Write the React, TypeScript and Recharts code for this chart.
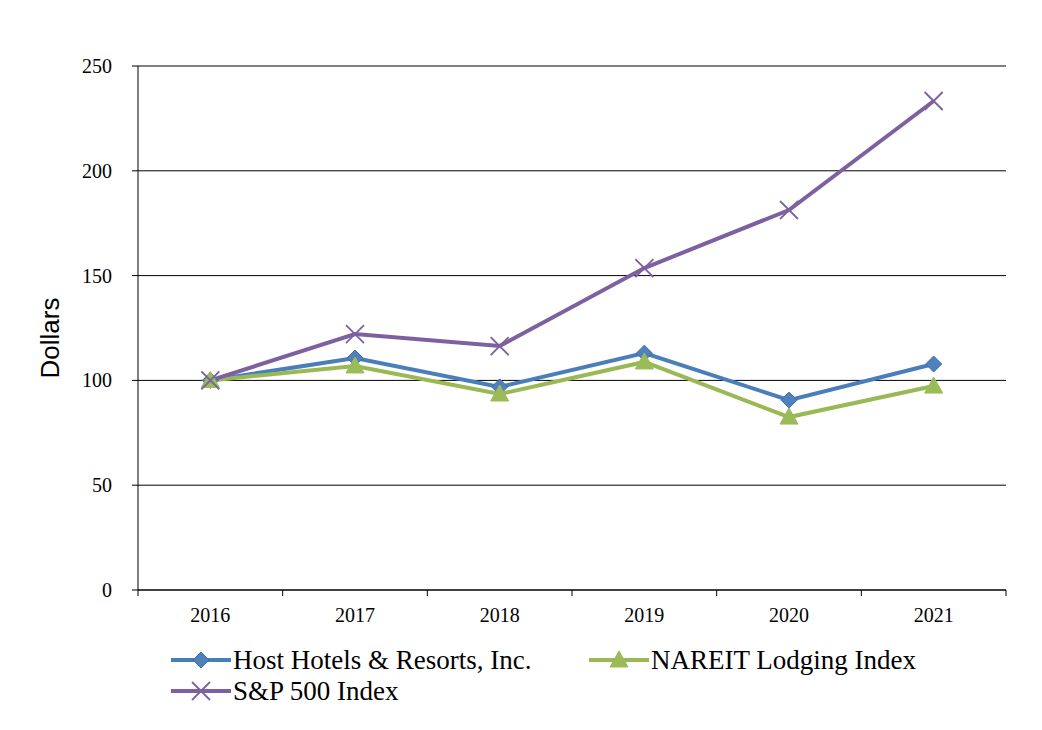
import React from 'react';
import { LineChart, Line, XAxis, YAxis, CartesianGrid, Legend } from 'recharts';

const years = ['2016', '2017', '2018', '2019', '2020', '2021'];
const hostValues = [100, 110.7, 96.9, 113, 90.6, 107.8];
const nareitValues = [100, 106.9, 93.5, 108.8, 82.5, 97.3];
const spValues = [100, 122.1, 116.4, 153.6, 181.3, 233.3];
const yTicks = [0, 50, 100, 150, 200, 250];

const data = years.map((year, i) => ({
  year,
  host: hostValues[i],
  nareit: nareitValues[i],
  sp: spValues[i],
}));

const WIDTH = 1042;
const HEIGHT = 730;
const MARGIN = { top: 66, right: 36, left: 0, bottom: 100 };
const Y_AXIS_WIDTH = 138;
const PLOT_WIDTH = WIDTH - MARGIN.left - MARGIN.right - Y_AXIS_WIDTH;
const HALF_BAND = PLOT_WIDTH / years.length / 2;

const SERIF = '"Liberation Serif", serif';
const SANS = '"Liberation Sans", sans-serif';

const series = [
  { key: 'host', name: 'Host Hotels & Resorts, Inc.', line: '#4A7EBB', marker: '#4F81BD', shape: 'diamond' },
  { key: 'nareit', name: 'NAREIT Lodging Index', line: '#98B954', marker: '#9BBB59', shape: 'triangle' },
  { key: 'sp', name: 'S&P 500 Index', line: '#7D60A0', marker: '#7D60A0', shape: 'cross' },
];

function Marker({ cx, cy, shape, color }: { cx: number; cy: number; shape: string; color: string }) {
  if (shape === 'diamond') {
    return <path d={`M${cx},${cy - 8} L${cx + 8},${cy} L${cx},${cy + 8} L${cx - 8},${cy} Z`} fill={color} stroke="#3F6DA6" strokeWidth={1} />;
  }
  if (shape === 'triangle') {
    return <path d={`M${cx},${cy - 9} L${cx + 9},${cy + 7} L${cx - 9},${cy + 7} Z`} fill={color} stroke={color} strokeWidth={1} />;
  }
  return (
    <g stroke={color} strokeWidth={1.8}>
      <line x1={cx - 9} y1={cy - 9} x2={cx + 9} y2={cy + 9} />
      <line x1={cx - 9} y1={cy + 9} x2={cx + 9} y2={cy - 9} />
    </g>
  );
}

const makeDot = (shape: string, color: string) => (props: any) => {
  const { cx, cy, index } = props;
  if (cx == null || cy == null) return <g key={index} />;
  return <Marker key={index} cx={cx} cy={cy} shape={shape} color={color} />;
};

const XTick = (props: any) => {
  const { x, y, payload, index } = props;
  const last = index === years.length - 1;
  return (
    <g>
      <line x1={x - HALF_BAND} y1={y - 8} x2={x - HALF_BAND} y2={y - 2} stroke="#000" />
      {last && <line x1={x + HALF_BAND} y1={y - 8} x2={x + HALF_BAND} y2={y - 2} stroke="#000" />}
      <text x={x} y={y + 24} textAnchor="middle" style={{ fontFamily: SERIF }} fontSize={20} fill="#000">
        {payload.value}
      </text>
    </g>
  );
};

const YTick = (props: any) => {
  const { x, y, payload } = props;
  return (
    <text x={x} y={y} dy={7} textAnchor="end" style={{ fontFamily: SERIF }} fontSize={20} fill="#000">
      {payload.value}
    </text>
  );
};

const LegendContent = () => (
  <div
    style={{
      display: 'grid',
      gridTemplateColumns: '418px 400px',
      paddingLeft: 170,
      rowGap: 3,
      fontFamily: SERIF,
      fontSize: 27,
      color: '#000',
    }}
  >
    {series.map((s) => (
      <div key={s.key} style={{ display: 'flex', alignItems: 'center', height: 28 }}>
        <svg width={62} height={24} style={{ marginRight: 1 }}>
          <line x1={1} y1={12} x2={61} y2={12} stroke={s.line} strokeWidth={4} />
          <Marker cx={31} cy={12} shape={s.shape} color={s.marker} />
        </svg>
        <span style={{ fontFamily: SERIF }}>{s.name}</span>
      </div>
    ))}
  </div>
);

export default function App() {
  return (
    <div style={{ position: 'absolute', left: 0, top: 0, background: '#fff' }}>
      <LineChart width={WIDTH} height={HEIGHT} data={data} margin={MARGIN}>
        <CartesianGrid vertical={false} stroke="#000" strokeWidth={1} />
        <XAxis
          dataKey="year"
          padding={{ left: HALF_BAND, right: HALF_BAND }}
          axisLine={{ stroke: '#000' }}
          tickLine={false}
          tick={<XTick />}
          height={40}
          interval={0}
        />
        <YAxis
          width={Y_AXIS_WIDTH}
          domain={[0, 250]}
          ticks={yTicks}
          axisLine={{ stroke: '#000' }}
          tickLine={{ stroke: '#000' }}
          tickSize={6}
          tickMargin={20}
          tick={<YTick />}
          label={{
            content: (p: any) => {
              const vb = p.viewBox || { x: 0, y: 0, width: 0, height: 0 };
              const cx = 50;
              const cy = vb.y + vb.height / 2 + 10;
              return (
                <text x={cx} y={cy} transform={`rotate(-90 ${cx} ${cy})`} textAnchor="middle" dominantBaseline="central" style={{ fontFamily: SANS }} fontSize={26} fill="#000">
                  Dollars
                </text>
              );
            },
          }}
        />
        <Legend
          layout="horizontal"
          verticalAlign="middle"
          align="center"
          content={<LegendContent />}
          wrapperStyle={{ top: 646, left: 0, width: WIDTH }}
        />
        {series.map((s) => (
          <Line
            key={s.key}
            type="linear"
            dataKey={s.key}
            name={s.name}
            stroke={s.line}
            strokeWidth={4}
            dot={makeDot(s.shape, s.marker)}
            activeDot={false}
            isAnimationActive={false}
          />
        ))}
      </LineChart>
    </div>
  );
}
